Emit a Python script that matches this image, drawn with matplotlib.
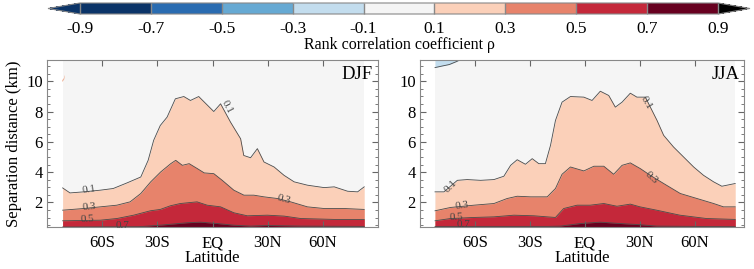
import matplotlib.pyplot as plt
import matplotlib as mpl
import numpy as np

plt.rcParams['font.family'] = ['Liberation Serif', 'DejaVu Serif']

# contour heights (km), per latitude
djf_lat01 = [-81.5, -77.5, -70, -61, -54, -46.5, -39, -35, -32, -28.4, -24.7, -20.2, -15.6, -12, -7.5, 0.7, 4.4,
             9.8, 15.3, 17, 20.7, 24.4, 28, 33.5, 38.9, 44.4, 51.6, 60.7, 66.2, 73.5, 78.9, 82.5]
djf_h01 = [2.96, 2.63, 2.70, 2.81, 2.92, 3.29, 3.68, 4.78, 6.10, 7.08, 7.63, 8.84, 8.99, 8.73, 8.99, 8.0, 8.51,
           7.3, 6.2, 5.1, 4.95, 5.55, 4.67, 4.34, 3.79, 3.36, 3.14, 2.98, 3.03, 2.74, 2.70, 3.03]
djf_lat03 = [-81.5, -70, -61, -52, -44.8, -39, -33.6, -28.2, -22.7, -20, -16.4, -12.7, -8.2, -4.5, 0.7, 5.3,
             11.6, 17.1, 22.5, 28, 35.3, 42.5, 51.6, 60.7, 71.6, 82.5]
djf_h03 = [1.49, 1.60, 1.71, 1.82, 2.04, 2.59, 3.36, 4.01, 4.56, 4.78, 4.45, 4.56, 4.23, 3.95, 3.90, 3.46,
           2.81, 2.48, 2.48, 2.37, 2.26, 2.04, 1.71, 1.60, 1.60, 1.54]
djf_lat05 = [-81.5, -61, -52, -42.9, -33.8, -28.4, -22.9, -17.5, -8.4, -2.9, 4.4, 11.6, 18.9, 29.8, 38.9, 48,
             66.2, 82.5]
djf_h05 = [0.79, 0.83, 0.94, 1.16, 1.45, 1.54, 1.78, 1.93, 2.04, 1.82, 1.71, 1.32, 1.12, 1.16, 1.10, 0.94,
           0.88, 0.88]
djf_lat07 = [-81.5, -40, -28.4, -13.8, -6.5, 2.5, 11.6, 20.7, 29.8, 48, 82.5]
djf_h07 = [0.38, 0.40, 0.50, 0.66, 0.70, 0.61, 0.50, 0.44, 0.48, 0.44, 0.42]

jja_lat01 = [-81.8, -76.9, -69.6, -64.2, -56.9, -49.6, -44.2, -40.5, -36.9, -32.4, -28.7, -25.1, -21.5, -18.7,
             -16, -12.4, -7.8, -0.5, 4, 8.5, 13.1, 16.7, 20.4, 24.9, 28.5, 33.1, 39.5, 43.1, 48.5, 54, 59.5,
             64.9, 70.4, 74.9, 82.2]
jja_h01 = [2.70, 2.70, 3.46, 3.51, 3.46, 3.51, 3.73, 4.45, 4.82, 4.52, 4.89, 4.56, 4.56, 5.77,
           7.41, 8.62, 8.99, 8.95, 8.73, 9.34, 9.06, 8.29, 8.62, 9.21, 8.95, 8.95, 7.41, 6.43, 5.66, 5.0, 4.34,
           3.79, 3.36, 3.07, 3.25]
jja_lat03 = [-81.8, -73.3, -60.5, -49.6, -42.4, -36.9, -29.6, -20.5, -16, -12.4, -7.8, -0.5, 5, 10.4, 15.8,
             20.4, 24.9, 30.4, 35.8, 43.1, 52.2, 61.3, 70.4, 75.8, 82.2]
jja_h03 = [1.45, 1.67, 1.82, 1.93, 2.26, 2.41, 2.37, 2.37, 2.92, 3.86, 4.34, 4.08, 4.39, 4.39, 3.86,
           4.45, 4.61, 4.23, 3.79, 3.25, 2.59, 2.26, 1.93, 1.71, 1.71]
jja_lat05 = [-81.8, -73.3, -60.5, -49.6, -38.7, -27.8, -20.5, -16, -11.5, -4.2, 3, 10.4, 17.6, 24.9, 30.2,
             39.3, 52, 66.5, 82.2]
jja_h05 = [0.79, 0.94, 1.01, 1.05, 1.16, 1.12, 1.05, 1.01, 1.60, 1.82, 1.82, 1.93, 1.75, 1.89, 1.71,
           1.49, 1.16, 0.94, 0.88]
jja_lat07 = [-81.8, -20, -13.3, -2.4, 8.5, 19.4, 30.4, 39.3, 82.2]
jja_h07 = [0.42, 0.42, 0.44, 0.61, 0.70, 0.61, 0.53, 0.44, 0.40]

# small patches near the top of the panels
jja_blue_lat = [-81.8, -78, -74, -70, -67.5]
jja_blue_h = [10.9, 11.0, 11.1, 11.3, 11.45]
djf_spot_lat = [-82, -81, -80.5]
djf_spot_h = [10.1, 10.25, 10.45]

levels = [-0.9, -0.7, -0.5, -0.3, -0.1, 0.1, 0.3, 0.5, 0.7, 0.9]
band_colors = ['#0b3468', '#2a6cb1', '#66a9d3', '#c3ddee', '#f5f5f5', '#fbd0b9', '#e7836b', '#c4283a', '#67001f']
under_color = '#0b3468'
over_color = '#000000'

djf_labels = [('0.1', -67, 2.85, 8), ('0.3', -67, 1.68, 5), ('0.5', -68, 0.9, 3), ('0.7', -49, 0.5, 0),
              ('0.1', 8, 8.3, -62), ('0.3', 39, 2.2, -15)]
jja_labels = [('0.1', -73, 3.05, 45), ('0.3', -67, 1.8, 8), ('0.5', -70, 1.05, 3), ('0.7', -66, 0.55, 0),
              ('0.1', 33.5, 8.6, -60), ('0.3', 36.5, 3.6, -42)]

W, H = 754, 269
fig = plt.figure(figsize=(W / 100, H / 100), dpi=100)

ax1 = fig.add_axes([47 / W, 1 - 227 / H, 331 / W, 167 / H])
ax2 = fig.add_axes([420 / W, 1 - 227 / H, 324 / W, 167 / H])

ymin, ymax = 0.38, 11.4
line_kw = dict(color='#4a4a4a', lw=0.6)


def draw_panel(ax, xs, hs, labels, season, xlim):
    (l01, l03, l05, l07) = xs
    (h01, h03, h05, h07) = hs
    ax.fill_between([l01[0], l01[-1]], ymin, ymax, color=band_colors[4], lw=0)
    ax.fill_between(l01, ymin, h01, color=band_colors[5], lw=0)
    ax.fill_between(l03, ymin, h03, color=band_colors[6], lw=0)
    ax.fill_between(l05, ymin, h05, color=band_colors[7], lw=0)
    ax.fill_between(l07, ymin, h07, color=band_colors[8], lw=0)
    for x, h in zip(xs, hs):
        ax.plot(x, h, **line_kw)
    for txt, x, y, rot in labels:
        ax.text(x, y, txt, fontsize=8, color='#444444', rotation=rot, ha='center', va='center',
                rotation_mode='anchor')
    ax.text(0.985, 0.965, season, transform=ax.transAxes, ha='right', va='top', fontsize=13.5)
    ax.set_xlim(*xlim)
    ax.set_ylim(ymin, ymax)
    ax.set_xticks([-60, -30, 0, 30, 60])
    ax.set_xticklabels(['60S', '30S', 'EQ', '30N', '60N'])
    ax.set_yticks([2, 4, 6, 8, 10])
    ax.set_yticks(np.arange(0.5, 11.4, 0.5), minor=True)
    ax.tick_params(which='both', direction='in', top=True, right=True, color='#666666', labelsize=12)
    ax.tick_params(axis='x', pad=6)
    ax.tick_params(axis='y', pad=3)
    ax.tick_params(which='major', length=4)
    ax.tick_params(which='minor', length=2, top=False, bottom=False)
    for s in ax.spines.values():
        s.set_color('#888888')
        s.set_linewidth(0.8)
    ax.set_xlabel('Latitude', fontsize=12, labelpad=-1)


draw_panel(ax1, (djf_lat01, djf_lat03, djf_lat05, djf_lat07), (djf_h01, djf_h03, djf_h05, djf_h07),
           djf_labels, 'DJF', (-90, 90))
ax1.fill_between(djf_spot_lat, np.array(djf_spot_h) - 0.12, djf_spot_h, color='#f0b49a', lw=0)
ax1.set_ylabel('Separation distance (km)', fontsize=12, labelpad=3)

draw_panel(ax2, (jja_lat01, jja_lat03, jja_lat05, jja_lat07), (jja_h01, jja_h03, jja_h05, jja_h07),
           jja_labels, 'JJA', (-90, 87))
ax2.fill_between(jja_blue_lat, jja_blue_h, ymax, color=band_colors[3], lw=0)
ax2.plot(jja_blue_lat, jja_blue_h, **line_kw)

# colorbar
cax = fig.add_axes([48 / W, 1 - 14 / H, 702 / W, 11 / H])
cmap = mpl.colors.ListedColormap(band_colors)
cmap.set_under(under_color)
cmap.set_over(over_color)
norm = mpl.colors.BoundaryNorm(levels, cmap.N)
cb = fig.colorbar(mpl.cm.ScalarMappable(norm=norm, cmap=cmap), cax=cax, orientation='horizontal',
                  extend='both', drawedges=True, ticks=levels)
cb.outline.set_edgecolor('#888888')
cb.outline.set_linewidth(0.8)
cb.dividers.set_color('#888888')
cb.dividers.set_linewidth(1.0)
cb.ax.set_xticklabels(['%g' % v for v in levels])
cb.ax.tick_params(length=0, labelsize=12.5, pad=5)
cb.set_label('Rank correlation coefficient \u03c1', fontsize=11.5, labelpad=0)

fig.savefig('out.png', dpi=100)
